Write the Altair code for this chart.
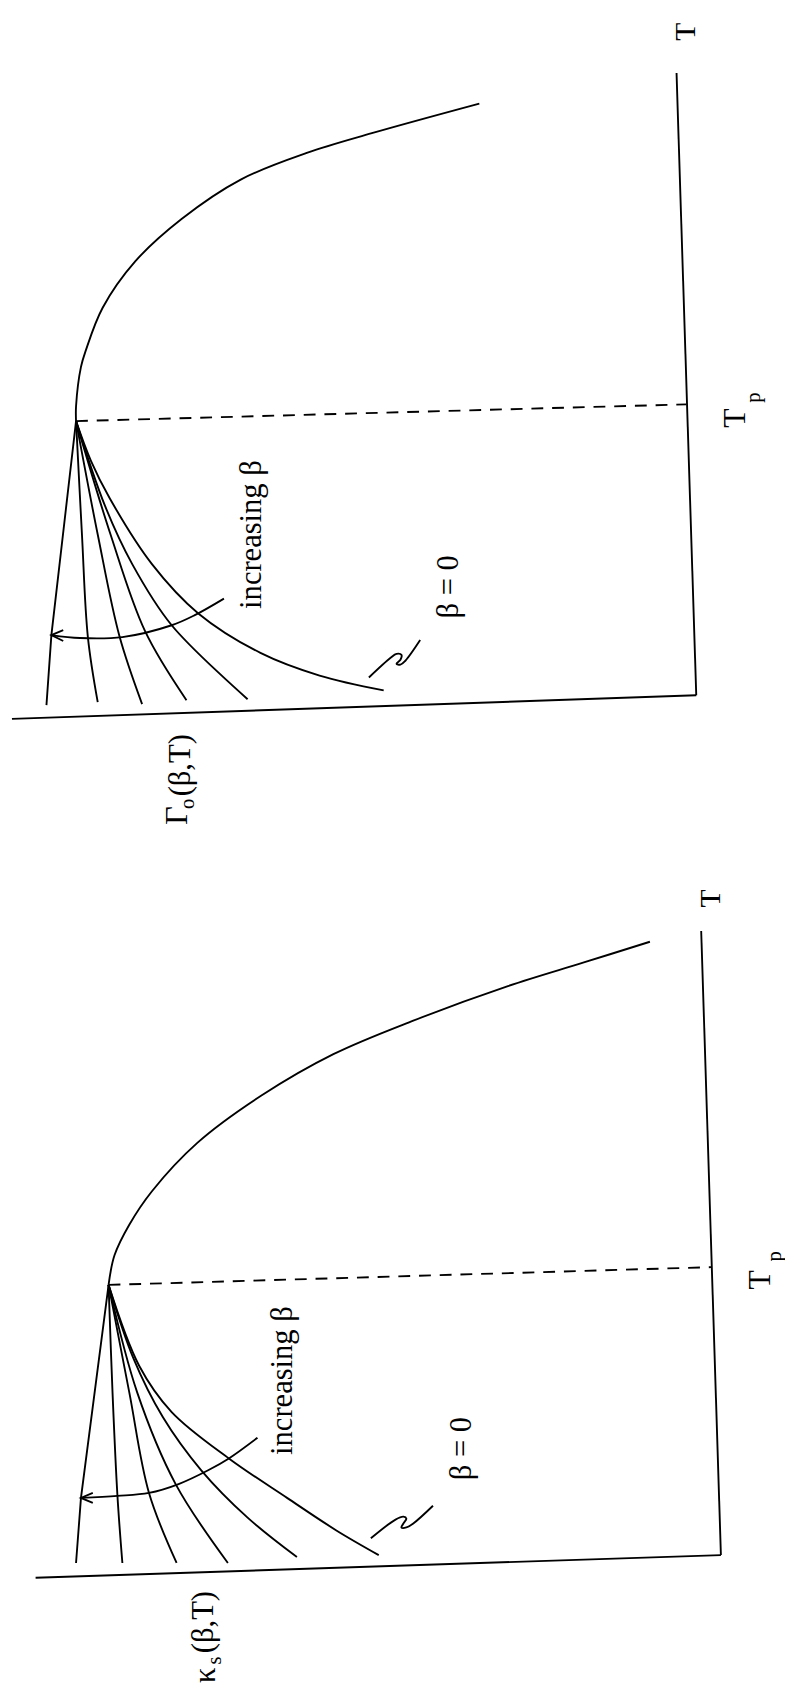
import altair as alt
import pandas as pd

# ===================== top panel : Gamma_o(beta, T) =====================
# k = distance from the T axis (grows to the left), t = height above the lower axis
TOP_T_AXIS_K = [0, 20]
TOP_T_AXIS_T = [0, 631]
TOP_G_AXIS_K = [0, 694]
TOP_G_AXIS_T = [0, -24]
TOP_TP_K = [629, 10]
TOP_TP_T = [278, 295]
TOP_UPPER_K = [629, 629, 624, 619, 602, 569, 522, 462, 395, 329, 220]
TOP_UPPER_T = [278, 293, 333, 350, 393, 440, 483, 523, 550, 570, 600]
TOP_L1_K = [629, 654, 659]
TOP_L1_T = [278, 61, -10]
TOP_L2_K = [629, 623, 617, 607]
TOP_L2_T = [278, 163, 59, -7]
TOP_L3_K = [629, 607, 585, 562]
TOP_L3_T = [278, 163, 60, -9]
TOP_L4_K = [629, 594, 559, 517]
TOP_L4_T = [278, 163, 65, -5]
TOP_L5_K = [629, 600, 572, 532, 455]
TOP_L5_T = [278, 193, 133, 71, -4]
TOP_B0_K = [629, 614, 595, 552, 505, 442, 382, 317]
TOP_B0_T = [278, 238, 200, 133, 83, 43, 20, 5]
TOP_ARC_K = [479, 509, 532, 582, 625, 654]
TOP_ARC_T = [98, 81, 71, 59, 58, 61]
TOP_HEAD_K = [642, 654, 642]
TOP_HEAD_T = [66, 61, 55]
TOP_BREAK_K = [332, 310, 304, 299, 300, 304, 300, 295, 280]
TOP_BREAK_T = [18, 38, 42, 41, 36, 32, 31, 35, 56]
TOP_TEXT = ["T", "T", "p", "increasing β", "β = 0", "Γ", "o", "(β,T)"]
TOP_TEXT_K = [10, -39, -59, 450, 251, 526, 515, 522]
TOP_TEXT_T = [673, 281, 302, 163, 110, -122, -110, -71]
TOP_TEXT_SIZE = [30, 32, 21, 31, 31, 33, 21, 31]

# ===================== bottom panel : kappa_s(beta, T) =====================
BOT_T_AXIS_K = [0, 20]
BOT_T_AXIS_T = [0, 633]
BOT_K_AXIS_K = [0, 695]
BOT_K_AXIS_T = [0, -23]
BOT_TP_K = [621, 10]
BOT_TP_T = [274, 292]
BOT_UPPER_K = [621, 615, 600, 577, 531, 466, 393, 312, 216, 139, 72]
BOT_UPPER_T = [274, 304, 335, 369, 418, 466, 508, 542, 577, 601, 622]
BOT_L1_K = [621, 649, 654]
BOT_L1_T = [274, 58, -8]
BOT_L2_K = [621, 617, 612, 607]
BOT_L2_T = [274, 165, 60, -8]
BOT_L3_K = [621, 600, 580, 552]
BOT_L3_T = [274, 165, 63, -8]
BOT_L4_K = [621, 592, 553, 500]
BOT_L4_T = [274, 165, 72, -8]
BOT_L5_K = [621, 596, 566, 527, 480, 430]
BOT_L5_T = [274, 200, 140, 86, 38, -2]
BOT_B0_K = [621, 590, 557, 499, 440, 390, 347]
BOT_B0_T = [274, 192, 145, 98, 58, 25, 0]
BOT_ARC_K = [470, 499, 520, 550, 580, 612, 649]
BOT_ARC_T = [119, 98, 86, 72, 63, 60, 58]
BOT_HEAD_K = [637, 649, 637]
BOT_HEAD_T = [63, 58, 53]
BOT_BREAK_K = [355, 330, 322, 319, 322, 324, 319, 312, 292]
BOT_BREAK_T = [17, 36, 39, 37, 32, 28, 28, 32, 50]
BOT_TEXT = ["T", "T", "p", "increasing β", "β = 0", "κ", "s", "(β,T)"]
BOT_TEXT_K = [10, -40, -55, 444, 262, 522, 513, 524]
BOT_TEXT_T = [666, 279, 303, 177, 108, -122, -107, -68]
BOT_TEXT_SIZE = [30, 32, 21, 31, 31, 31, 21, 31]

FONT = "Liberation Serif"


def frame(name, ks, ts):
    return pd.DataFrame({"curve": name, "i": list(range(len(ks))), "k": ks, "t": ts})


def panel(straight, smooth, dashed, texts, kdom, tdom, w, h):
    xs = alt.Scale(domain=kdom, reverse=True, nice=False, zero=False)
    ys = alt.Scale(domain=tdom, nice=False, zero=False)
    x = alt.X("k:Q", scale=xs, axis=None)
    y = alt.Y("t:Q", scale=ys, axis=None)
    lin = alt.Chart(pd.concat(straight)).mark_line(
        color="black", strokeWidth=1.9, interpolate="linear"
    ).encode(x=x, y=y, detail="curve:N", order="i:Q")
    smo = alt.Chart(pd.concat(smooth)).mark_line(
        color="black", strokeWidth=1.9, interpolate="catmull-rom"
    ).encode(x=x, y=y, detail="curve:N", order="i:Q")
    das = alt.Chart(dashed).mark_line(
        color="black", strokeWidth=1.9, strokeDash=[12, 9]
    ).encode(x=x, y=y, order="i:Q")
    txt = alt.Chart(texts).mark_text(
        font=FONT, angle=270, align="center", baseline="middle", color="black"
    ).encode(x=x, y=y, text="text:N", size=alt.Size("size:Q", scale=None, legend=None))
    return alt.layer(lin, smo, das, txt).properties(width=w, height=h)


top = panel(
    [
        frame("taxis", TOP_T_AXIS_K, TOP_T_AXIS_T),
        frame("gaxis", TOP_G_AXIS_K, TOP_G_AXIS_T),
        frame("l1", TOP_L1_K, TOP_L1_T),
        frame("head", TOP_HEAD_K, TOP_HEAD_T),
    ],
    [
        frame("upper", TOP_UPPER_K, TOP_UPPER_T),
        frame("l2", TOP_L2_K, TOP_L2_T),
        frame("l3", TOP_L3_K, TOP_L3_T),
        frame("l4", TOP_L4_K, TOP_L4_T),
        frame("l5", TOP_L5_K, TOP_L5_T),
        frame("b0", TOP_B0_K, TOP_B0_T),
        frame("arc", TOP_ARC_K, TOP_ARC_T),
        frame("break", TOP_BREAK_K, TOP_BREAK_T),
    ],
    frame("tp", TOP_TP_K, TOP_TP_T),
    pd.DataFrame({"text": TOP_TEXT, "k": TOP_TEXT_K, "t": TOP_TEXT_T, "size": TOP_TEXT_SIZE}),
    [-83, 694], [-155, 685], 777, 840,
)

bottom = panel(
    [
        frame("taxis", BOT_T_AXIS_K, BOT_T_AXIS_T),
        frame("kaxis", BOT_K_AXIS_K, BOT_K_AXIS_T),
        frame("l1", BOT_L1_K, BOT_L1_T),
        frame("head", BOT_HEAD_K, BOT_HEAD_T),
    ],
    [
        frame("upper", BOT_UPPER_K, BOT_UPPER_T),
        frame("l2", BOT_L2_K, BOT_L2_T),
        frame("l3", BOT_L3_K, BOT_L3_T),
        frame("l4", BOT_L4_K, BOT_L4_T),
        frame("l5", BOT_L5_K, BOT_L5_T),
        frame("b0", BOT_B0_K, BOT_B0_T),
        frame("arc", BOT_ARC_K, BOT_ARC_T),
        frame("break", BOT_BREAK_K, BOT_BREAK_T),
    ],
    frame("tp", BOT_TP_K, BOT_TP_T),
    pd.DataFrame({"text": BOT_TEXT, "k": BOT_TEXT_K, "t": BOT_TEXT_T, "size": BOT_TEXT_SIZE}),
    [-58, 719], [-135, 717], 777, 852,
)

chart = (
    alt.vconcat(top, bottom, spacing=0)
    .properties(padding=0, background="white")
    .configure_view(stroke=None)
)

chart.save("out.html", embed_options={"renderer": "svg", "actions": False})
